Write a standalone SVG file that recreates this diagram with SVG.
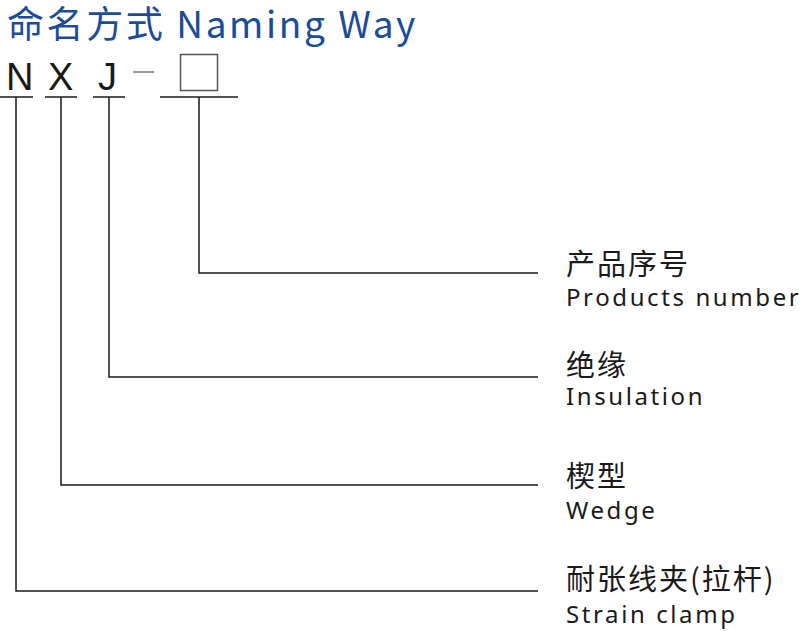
<svg xmlns="http://www.w3.org/2000/svg" width="800" height="631" viewBox="0 0 800 631">
<style>
.ln{stroke:#1a1a1a;stroke-width:1.5;fill:none}
.title{font-family:"Noto Sans CJK SC","Noto Sans",sans-serif;font-size:37px;fill:#1b4c97;letter-spacing:2.6px}
.code{font-family:"Liberation Sans",Arial,sans-serif;font-size:38px;fill:#1a1a1a}
.cn{font-family:"Noto Sans CJK SC",sans-serif;font-size:29px;fill:#1a1a1a;letter-spacing:2px}
.en{font-family:"Noto Sans","Open Sans",sans-serif;font-size:24px;fill:#1a1a1a;letter-spacing:2.6px}
</style>
<rect width="800" height="631" fill="#fff"/>
<text class="title" x="7" y="38">命名方式 Naming Way</text>
<g id="code">
<text class="code" x="6" y="90">N</text>
<text class="code" x="48" y="90">X</text>
<text class="code" x="98" y="90">J</text>
<line x1="133" y1="72" x2="154" y2="72" stroke="#555" stroke-width="1.2"/>
<rect x="180.5" y="54.5" width="37" height="36" fill="none" stroke="#555" stroke-width="1.5"/>
</g>
<g id="connectors">
<line class="ln" x1="0" y1="97" x2="33" y2="97"/>
<line class="ln" x1="45" y1="97" x2="77" y2="97"/>
<line class="ln" x1="93" y1="97" x2="125" y2="97"/>
<line class="ln" x1="160" y1="97" x2="238" y2="97"/>
<polyline class="ln" points="199,97 199,273 538,273"/>
<polyline class="ln" points="109,97 109,377 538,377"/>
<polyline class="ln" points="61,97 61,485 538,485"/>
<polyline class="ln" points="16,97 16,591 538,591"/>
</g>
<g id="products"><text class="cn" x="566" y="275">产品序号</text><text class="en" x="566" y="306">Products number</text></g>
<g id="insulation"><text class="cn" x="566" y="376">绝缘</text><text class="en" x="566" y="405">Insulation</text></g>
<g id="wedge"><text class="cn" x="566" y="487">楔型</text><text class="en" x="566" y="519">Wedge</text></g>
<g id="strain"><text class="cn" x="566" y="590">耐张线夹(拉杆)</text><text class="en" x="566" y="623">Strain clamp</text></g>
</svg>
